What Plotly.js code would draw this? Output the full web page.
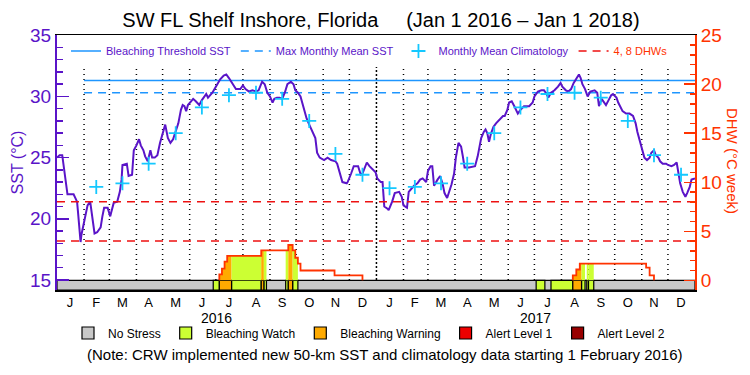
<!DOCTYPE html>
<html>
<head>
<meta charset="utf-8">
<script src="https://cdn.plot.ly/plotly-3.0.1.min.js"></script>
<style>
html,body{margin:0;padding:0;background:#fff}
#chart{width:750px;height:375px}
/* legend-only category entries are shown at full strength, as in the reference key */
#chart g.traces{opacity:1 !important}
</style>
</head>
<body>
<div id="chart"></div>
<script>
// ---------------- DATA ----------------
const periodStart = "2016-01-01";
const periodEnd = "2018-01-01";
const climatologyStart = "2016-02-01";
const bleachingThreshold = 31.3;
const maxMonthlyMean = 30.3;
const dhwLevels = [4, 8];

const sst2016Dates = [
 "2016-01-01","2016-01-04","2016-01-07","2016-01-09","2016-01-11","2016-01-13","2016-01-20","2016-01-22","2016-01-24","2016-01-25","2016-01-26","2016-01-28","2016-01-29","2016-01-31",
 "2016-02-03","2016-02-05","2016-02-08","2016-02-09","2016-02-11","2016-02-13","2016-02-16","2016-02-20","2016-02-22","2016-02-24","2016-02-28",
 "2016-03-02","2016-03-03","2016-03-06","2016-03-10","2016-03-13","2016-03-15","2016-03-16","2016-03-21","2016-03-23","2016-03-27","2016-03-29",
 "2016-04-01","2016-04-04","2016-04-06","2016-04-09","2016-04-11","2016-04-14","2016-04-17","2016-04-19","2016-04-22","2016-04-25","2016-04-28",
 "2016-05-01","2016-05-04","2016-05-07","2016-05-10","2016-05-13","2016-05-16","2016-05-19","2016-05-22","2016-05-24","2016-05-26","2016-05-28","2016-05-30",
 "2016-06-02","2016-06-05","2016-06-08","2016-06-12","2016-06-15","2016-06-20","2016-06-22","2016-06-27",
 "2016-07-01","2016-07-06","2016-07-10","2016-07-13","2016-07-16","2016-07-20","2016-07-24","2016-07-29",
 "2016-08-01","2016-08-04","2016-08-08","2016-08-12","2016-08-16","2016-08-19","2016-08-23","2016-08-26","2016-08-29",
 "2016-09-01","2016-09-04","2016-09-06","2016-09-09","2016-09-12","2016-09-15","2016-09-18","2016-09-21","2016-09-25","2016-09-28","2016-09-30",
 "2016-10-03","2016-10-06","2016-10-10","2016-10-13","2016-10-16","2016-10-18","2016-10-21","2016-10-23","2016-10-25","2016-10-28",
 "2016-11-02","2016-11-06","2016-11-10","2016-11-15","2016-11-17","2016-11-20","2016-11-23","2016-11-28","2016-11-29",
 "2016-12-03","2016-12-06","2016-12-11","2016-12-14","2016-12-16","2016-12-19","2016-12-21","2016-12-24","2016-12-27","2016-12-31"
];
const sst2016Values = [
 25.0,25.2,25.2,24.0,22.9,22.0,22.0,21.7,21.4,20.6,19.6,18.1,18.7,19.4,
 20.3,21.1,21.4,20.9,19.8,18.8,18.9,19.3,20.2,20.9,20.9,
 20.2,20.5,21.3,21.4,22.2,23.2,24.4,24.5,23.5,23.6,25.6,
 26.0,26.5,26.0,25.6,25.1,24.7,25.6,25.0,25.0,25.2,26.2,
 27.0,27.7,26.6,26.2,26.5,27.1,27.8,28.9,29.3,29.2,28.8,29.3,
 29.6,29.8,29.6,29.3,29.7,30.2,29.9,30.3,
 30.8,31.4,31.7,31.8,31.5,31.0,30.6,30.6,
 30.9,30.6,30.4,30.5,30.4,30.5,31.2,31.0,30.3,
 30.0,29.5,29.8,29.9,29.9,29.8,30.3,31.0,31.2,31.0,30.5,
 30.3,30.0,28.9,28.2,27.7,27.4,27.0,26.6,25.4,25.0,
 24.8,25.0,24.8,24.7,24.5,23.7,23.0,22.9,23.0,
 23.7,24.3,24.3,23.6,23.7,24.3,24.6,24.3,24.1,23.8
];
const sst2017Dates = [
 "2017-01-02","2017-01-06","2017-01-08","2017-01-10","2017-01-14","2017-01-15","2017-01-19","2017-01-22","2017-01-27","2017-01-30",
 "2017-02-01","2017-02-04","2017-02-05","2017-02-07","2017-02-10","2017-02-13","2017-02-17","2017-02-20","2017-02-23","2017-02-27",
 "2017-03-01","2017-03-04","2017-03-06","2017-03-08","2017-03-12","2017-03-15","2017-03-18","2017-03-20","2017-03-23","2017-03-25","2017-03-28","2017-03-31",
 "2017-04-02","2017-04-05","2017-04-08","2017-04-10","2017-04-12","2017-04-17","2017-04-24","2017-04-27","2017-04-29",
 "2017-05-01","2017-05-04","2017-05-06","2017-05-08","2017-05-10","2017-05-12","2017-05-15","2017-05-18","2017-05-22","2017-05-26","2017-05-28","2017-05-31",
 "2017-06-02","2017-06-05","2017-06-08","2017-06-12","2017-06-15","2017-06-19","2017-06-25","2017-06-29",
 "2017-07-01","2017-07-05","2017-07-09","2017-07-12","2017-07-14","2017-07-17","2017-07-20","2017-07-24","2017-07-28","2017-07-31",
 "2017-08-02","2017-08-06","2017-08-09","2017-08-12","2017-08-15","2017-08-18","2017-08-21","2017-08-23","2017-08-25","2017-08-28","2017-08-31",
 "2017-09-03","2017-09-08","2017-09-11","2017-09-13","2017-09-16","2017-09-19","2017-09-21","2017-09-24","2017-09-27","2017-09-29",
 "2017-10-03","2017-10-05","2017-10-08","2017-10-10","2017-10-14","2017-10-18","2017-10-22","2017-10-25","2017-10-27","2017-10-30",
 "2017-11-01","2017-11-04","2017-11-07","2017-11-10","2017-11-12","2017-11-15","2017-11-17","2017-11-20","2017-11-22","2017-11-25","2017-11-29",
 "2017-12-01","2017-12-05","2017-12-08","2017-12-11","2017-12-13","2017-12-15","2017-12-18","2017-12-21","2017-12-23","2017-12-26","2017-12-28","2017-12-31",
 "2018-01-01"
];
const sst2017Values = [
 23.3,23.0,23.0,21.0,20.8,20.7,21.4,22.1,22.2,21.8,
 21.1,21.0,20.9,22.2,22.5,22.7,22.9,23.2,23.3,23.0,
 23.9,24.3,24.3,22.7,23.2,23.5,22.8,22.1,21.7,22.1,22.8,23.7,
 25.0,26.2,25.9,25.1,24.2,24.2,24.3,25.1,26.0,
 26.6,27.1,27.3,27.0,26.3,26.9,27.5,27.8,28.1,28.4,28.4,28.9,
 29.5,29.6,29.2,28.6,28.9,29.2,29.2,29.5,
 30.0,30.4,30.5,30.5,30.3,29.9,30.3,30.5,30.8,31.1,
 30.8,30.5,30.4,30.6,31.1,31.4,31.8,31.5,31.0,30.6,30.0,
 30.4,30.5,30.3,29.2,29.8,29.5,29.3,29.7,30.1,30.2,
 29.9,29.5,29.0,28.8,28.6,28.6,28.4,27.8,27.1,26.3,
 25.6,25.0,24.8,25.0,25.4,25.6,25.2,25.0,24.7,24.5,24.5,
 24.4,24.3,24.4,24.6,23.7,22.9,22.2,21.8,22.1,22.6,23.2,23.3,
 23.3
];

const climDates = [
 "2016-02-15","2016-03-16","2016-04-15","2016-05-16","2016-06-15","2016-07-16","2016-08-16","2016-09-15","2016-10-16","2016-11-15","2016-12-16",
 "2017-01-16","2017-02-14","2017-03-16","2017-04-15","2017-05-16","2017-06-15","2017-07-16","2017-08-16","2017-09-15","2017-10-16","2017-11-15","2017-12-16"
];
const climValues = [
 22.6,22.9,24.5,27.0,29.1,30.1,30.3,29.8,28.0,25.3,23.6,
 22.5,22.6,22.9,24.5,27.0,29.1,30.2,30.3,29.9,28.0,25.2,23.6
];

// Degree Heating Weeks (step curve; null separates the two events)
const dhwDates = [
 "2016-07-05","2016-07-05","2016-07-08","2016-07-11","2016-07-14","2016-08-22","2016-09-22","2016-09-27","2016-09-30","2016-10-03","2016-10-06","2016-11-14","2016-12-16",
 "2016-12-17",
 "2017-08-14","2017-08-14","2017-08-18","2017-08-22","2017-11-06","2017-11-10","2017-11-15"
];
const dhwValues = [
 0,0.6,1.2,1.9,2.5,3.05,3.6,3.05,2.3,1.7,1.0,0.5,0,
 null,
 0,0.5,1.1,1.7,1.3,0.5,0
];

// Daily stress level periods
const stressStart = ["2016-06-28","2016-07-05","2016-07-19","2016-08-22","2016-08-25","2016-09-19","2016-09-22","2016-09-27",
                     "2017-07-03","2017-07-20","2017-08-14","2017-08-24","2017-08-30","2017-09-01"];
const stressEnd   = ["2016-07-05","2016-07-19","2016-08-22","2016-08-25","2016-08-28","2016-09-22","2016-09-27","2016-10-03",
                     "2017-07-13","2017-08-14","2017-08-24","2017-08-28","2017-09-01","2017-09-07"];
const stressLevel = ["Bleaching Watch","Bleaching Warning","Bleaching Watch","Bleaching Warning","Bleaching Watch","Bleaching Watch","Bleaching Warning","Bleaching Watch",
                     "Bleaching Watch","Bleaching Watch","Bleaching Warning","Bleaching Watch","Bleaching Watch","Bleaching Watch"];
const stressCategories = ["No Stress","Bleaching Watch","Bleaching Warning","Alert Level 1","Alert Level 2"];

const monthTickDates = [
 "2016-01-16","2016-02-15","2016-03-16","2016-04-15","2016-05-16","2016-06-15","2016-07-16","2016-08-16","2016-09-15","2016-10-16","2016-11-15","2016-12-16",
 "2017-01-16","2017-02-14","2017-03-16","2017-04-15","2017-05-16","2017-06-15","2017-07-16","2017-08-16","2017-09-15","2017-10-16","2017-11-15","2017-12-16"
];
const monthTickLabels = ["J","F","M","A","M","J","J","A","S","O","N","D","J","F","M","A","M","J","J","A","S","O","N","D"];
const monthBoundaries = [
 "2016-02-01","2016-03-01","2016-04-01","2016-05-01","2016-06-01","2016-07-01","2016-08-01","2016-09-01","2016-10-01","2016-11-01","2016-12-01",
 "2017-01-01","2017-02-01","2017-03-01","2017-04-01","2017-05-01","2017-06-01","2017-07-01","2017-08-01","2017-09-01","2017-10-01","2017-11-01","2017-12-01"
];
const yearLabels = ["2016","2017"];
const yearLabelDates = ["2016-07-02","2017-07-02"];

// ---------------- STYLE ----------------
const FONT = "Liberation Sans, Arial, sans-serif";
const PURPLE = "#5a14c8";
const ORANGE = "#ff3300";
const DHW_RED = "#ee1111";
const BLUE = "#1e96ff";
const CYAN = "#14c8ff";
const STRESS_COLORS = {
  "No Stress": "#c8c8c8",
  "Bleaching Watch": "#ccff33",
  "Bleaching Warning": "#ffaa00",
  "Alert Level 1": "#ee0000",
  "Alert Level 2": "#990000"
};
const Y2_MIN = -0.99, Y2_MAX = 25.02;

// ---------------- HELPERS ----------------
const ms = s => Date.parse(s + "T00:00:00Z");
const iso = t => new Date(t).toISOString().slice(0, 19);
function dhwAt(t) {
  let v = 0;
  for (let i = 0; i < dhwDates.length; i++) {
    if (ms(dhwDates[i]) <= t) v = (dhwValues[i] === null ? 0 : dhwValues[i]);
  }
  return v;
}

// ---------------- TRACES ----------------
const traces = [];
traces.push({type:"scatter", mode:"lines", x:[climatologyStart, periodEnd], y:[bleachingThreshold, bleachingThreshold],
  name:"Bleaching Threshold SST", line:{color:BLUE, width:1.5}, legend:"legend", hoverinfo:"skip"});
traces.push({type:"scatter", mode:"lines", x:[climatologyStart, periodEnd], y:[maxMonthlyMean, maxMonthlyMean],
  name:"Max Monthly Mean SST", line:{color:BLUE, width:1.5, dash:"8px,6px"}, legend:"legend", hoverinfo:"skip"});
traces.push({type:"scatter", mode:"lines", x:sst2016Dates.concat(sst2017Dates), y:sst2016Values.concat(sst2017Values),
  name:"SST", showlegend:false, line:{color:PURPLE, width:2}});
traces.push({type:"scatter", mode:"markers", x:climDates, y:climValues, name:"Monthly Mean Climatology",
  marker:{symbol:"cross-thin", size:10, line:{color:CYAN, width:1.8}, color:CYAN}, legend:"legend"});

// Stress bar strip (below DHW = 0)
const totalW = ms(periodEnd) - ms(periodStart);
traces.push({type:"bar", yaxis:"y2", x:[iso(ms(periodStart) + totalW/2)], y:[-Y2_MIN], base:[Y2_MIN], width:[totalW],
  name:"No Stress", legend:"legend2", marker:{color:STRESS_COLORS["No Stress"], line:{color:"#000", width:1.2}}, hoverinfo:"skip"});
stressCategories.slice(1).forEach(cat => {
  const xs = [], ws = [], ys = [], bs = [];
  stressLevel.forEach((lvl, i) => {
    if (lvl !== cat) return;
    const a = ms(stressStart[i]), b = ms(stressEnd[i]);
    xs.push(iso((a + b) / 2)); ws.push(b - a); ys.push(-Y2_MIN); bs.push(Y2_MIN);
  });
  const tr = {type:"bar", yaxis:"y2", x:xs, y:ys, base:bs, width:ws, name:cat, legend:"legend2",
    marker:{color:STRESS_COLORS[cat], line:{color:"#000", width:1.2}}, hoverinfo:"skip"};
  if (xs.length === 0) { // category not reached in this period: key entry only
    tr.x = [periodStart]; tr.y = [1]; tr.base = [0]; tr.width = [0]; tr.visible = "legendonly";
  }
  traces.push(tr);
});

// Colored area under the DHW curve for stress days
stressLevel.forEach((lvl, i) => {
  const a = ms(stressStart[i]), b = ms(stressEnd[i]);
  const xs = [stressStart[i]], ys = [dhwAt(a)];
  dhwDates.forEach((d, j) => {
    const t = ms(d);
    if (t > a && t < b && dhwValues[j] !== null) { xs.push(d); ys.push(dhwAt(t)); }
  });
  xs.push(stressEnd[i]); ys.push(ys[ys.length - 1]);
  if (Math.max(...ys) <= 0) return;
  traces.push({type:"scatter", mode:"lines", yaxis:"y2", x:xs, y:ys, fill:"tozeroy", fillcolor:STRESS_COLORS[lvl],
    line:{width:0, shape:"hv", color:STRESS_COLORS[lvl]}, showlegend:false, hoverinfo:"skip"});
});

traces.push({type:"scatter", mode:"lines", yaxis:"y2",
  x:[periodStart, periodEnd, null, periodStart, periodEnd], y:[dhwLevels[0], dhwLevels[0], null, dhwLevels[1], dhwLevels[1]],
  name:'<span style="color:' + ORANGE + '">4, 8 DHWs</span>', legend:"legend",
  line:{color:DHW_RED, width:1.5, dash:"8px,6px"}, hoverinfo:"skip"});
traces.push({type:"scatter", mode:"lines", yaxis:"y2", x:dhwDates, y:dhwValues, name:"DHW", showlegend:false,
  connectgaps:false, line:{color:ORANGE, width:1.8, shape:"hv"}});

// ---------------- LAYOUT ----------------
const shapes = monthBoundaries.map(d => ({
  type:"line", xref:"x", yref:"paper", x0:d, x1:d, y0:10/255, y1:(290-67)/255, layer:"below",
  line:{color:"#000", width:1.5, dash: d.endsWith("-01-01") ? "2px,2px" : "1px,4px"}
}));

const annotations = yearLabels.map((t, i) => ({
  x: yearLabelDates[i], xref:"x", y:(290-318)/255, yref:"paper", text:t, showarrow:false,
  font:{size:14, color:"#000", family:FONT}, xanchor:"center", yanchor:"middle"
}));
annotations.push({x:(385-57)/638, xref:"paper", y:(290-354)/255, yref:"paper", showarrow:false,
  text:"(Note: CRW implemented new 50-km SST and climatology data starting 1 February 2016)",
  font:{size:15, color:"#000", family:FONT}, xanchor:"center", yanchor:"middle"});
annotations.push({x:(733-57)/638, xref:"paper", y:(290-161)/255, yref:"paper", showarrow:false, textangle:90,
  text:"DHW (°C week)", font:{size:15, color:ORANGE, family:FONT}, xanchor:"center", yanchor:"middle"});

const layout = {
  width:750, height:375,
  margin:{l:57, r:55, t:35, b:85, pad:0},
  paper_bgcolor:"#fff", plot_bgcolor:"#fff",
  font:{family:FONT, color:"#000"},
  title:{text:"SW FL Shelf Inshore, Florida" + "\u00a0".repeat(5) + "(Jan 1 2016 \u2013 Jan 1 2018)",
    x:(381-57)/638, xref:"paper", xanchor:"center", y:1-20/375, yref:"container", yanchor:"middle",
    font:{size:20, color:"#000", family:FONT}},
  showlegend:true,
  barmode:"overlay",
  legend:{orientation:"h", x:(66-57)/638, xanchor:"left", y:(290-51)/255, yanchor:"middle",
    bgcolor:"rgba(0,0,0,0)", borderwidth:0, font:{size:11, color:PURPLE, family:FONT},
    traceorder:"normal", itemclick:false, itemdoubleclick:false},
  legend2:{orientation:"h", x:(68-57)/638, xanchor:"left", y:(290-333)/255, yanchor:"middle",
    bgcolor:"rgba(0,0,0,0)", borderwidth:0, font:{size:12, color:"#000", family:FONT},
    traceorder:"normal", itemclick:false, itemdoubleclick:false},
  xaxis:{type:"date", range:[periodStart, periodEnd], tickmode:"array", tickvals:monthTickDates, ticktext:monthTickLabels,
    ticks:"", showgrid:false, zeroline:false, showline:true, linecolor:"#000", linewidth:1.5, mirror:true,
    tickfont:{size:13, color:"#000", family:FONT}, fixedrange:true},
  yaxis:{range:[14.18, 35.02], tick0:15, dtick:5, ticks:"inside", ticklen:12, tickwidth:1.5, tickcolor:PURPLE,
    showline:true, linecolor:PURPLE, linewidth:2, showgrid:false, zeroline:false,
    tickfont:{size:19, color:PURPLE, family:FONT},
    minor:{tick0:15, dtick:1, ticks:"inside", ticklen:6, tickwidth:1.5, tickcolor:PURPLE, showgrid:false},
    title:{text:"SST (°C)", font:{size:16, color:PURPLE, family:FONT}, standoff:2}, fixedrange:true},
  yaxis2:{overlaying:"y", side:"right", range:[Y2_MIN, Y2_MAX], tick0:0, dtick:5, ticks:"inside", ticklen:11, tickwidth:1.5,
    tickcolor:ORANGE, showline:true, linecolor:ORANGE, linewidth:2, showgrid:false, zeroline:false,
    tickfont:{size:19, color:ORANGE, family:FONT},
    minor:{tick0:0, dtick:1, ticks:"inside", ticklen:5, tickwidth:1.5, tickcolor:ORANGE, showgrid:false}, fixedrange:true},
  shapes:shapes,
  annotations:annotations
};

Plotly.newPlot("chart", traces, layout, {displayModeBar:false, staticPlot:true});
</script>
</body>
</html>
